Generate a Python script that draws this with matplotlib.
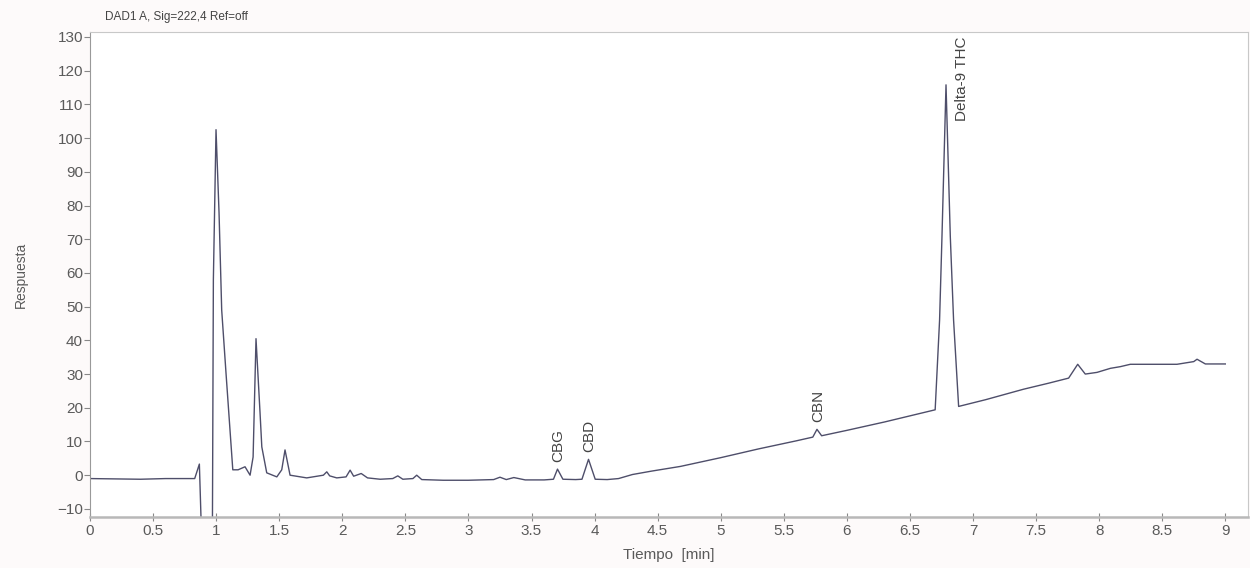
import matplotlib.pyplot as plt

plt.rcParams['font.family'] = ['Liberation Sans', 'DejaVu Sans']

# cromatograma (tiempo en min, respuesta)
tiempo = [0.00, 0.20, 0.40, 0.60, 0.83, 0.867, 0.886, 0.970, 0.978, 0.999,
          1.023, 1.044, 1.078, 1.132, 1.174, 1.229, 1.269, 1.293, 1.316, 1.348,
          1.362, 1.401, 1.481, 1.520, 1.546, 1.586, 1.718, 1.85, 1.877, 1.90,
          1.956, 2.03, 2.062, 2.09, 2.15, 2.20, 2.30, 2.40, 2.44, 2.48,
          2.56, 2.59, 2.63, 2.80, 3.00, 3.20, 3.25, 3.30, 3.36, 3.45,
          3.60, 3.674, 3.706, 3.749, 3.85, 3.90, 3.952, 4.005, 4.10, 4.19,
          4.30, 4.45, 4.68, 5.00, 5.30, 5.60, 5.73, 5.763, 5.80, 6.00,
          6.30, 6.50, 6.70, 6.735, 6.754, 6.786, 6.820, 6.846, 6.886, 7.10,
          7.40, 7.60, 7.758, 7.83, 7.89, 7.983, 8.089, 8.168, 8.247, 8.617,
          8.75, 8.776, 8.842, 9.00]
respuesta = [-1.0, -1.1, -1.2, -1.0, -1.0, 3.3, -20.0, -20.0, 58.0, 102.5,
             77.8, 49.0, 30.4, 1.6, 1.6, 2.5, 0.0, 5.4, 40.5, 18.5,
             8.4, 0.7, -0.5, 1.6, 7.5, 0.0, -0.8, 0.0, 1.0, -0.2,
             -0.8, -0.5, 1.5, -0.3, 0.5, -0.8, -1.2, -1.0, -0.2, -1.2,
             -1.0, 0.0, -1.3, -1.5, -1.5, -1.3, -0.6, -1.3, -0.7, -1.4,
             -1.4, -1.2, 1.8, -1.2, -1.3, -1.2, 4.7, -1.2, -1.3, -1.0,
             0.2, 1.2, 2.6, 5.2, 7.8, 10.2, 11.3, 13.6, 11.7, 13.3,
             15.8, 17.6, 19.4, 46.0, 70.8, 115.8, 70.8, 46.0, 20.4, 22.4,
             25.5, 27.3, 28.8, 32.9, 30.0, 30.5, 31.7, 32.2, 32.9, 32.9,
             33.7, 34.4, 33.0, 33.0]

picos = ['CBG', 'CBD', 'CBN', 'Delta-9 THC']
t_picos = [3.706, 3.952, 5.763, 6.786]
h_picos = [1.8, 4.7, 13.6, 115.8]

xticks = [0, 0.5, 1, 1.5, 2, 2.5, 3, 3.5, 4, 4.5, 5, 5.5, 6, 6.5, 7, 7.5, 8, 8.5, 9]
xlabels = ['0', '0.5', '1', '1.5', '2', '2.5', '3', '3.5', '4', '4.5', '5', '5.5',
           '6', '6.5', '7', '7.5', '8', '8.5', '9']
yticks = list(range(-10, 131, 10))

gris = '#5a5a5a'
fig = plt.figure(figsize=(12.5, 5.68), dpi=100, facecolor='#fdfafa')
ax = fig.add_axes([0.072, 0.0898, 0.9264, 0.854])
ax.set_facecolor('white')

ax.plot(tiempo, respuesta, color='#4e4e6a', lw=1.0)

for nombre, t, h in zip(picos, t_picos, h_picos):
    if nombre == 'Delta-9 THC':
        # etiqueta del THC va a la derecha del pico, pegada arriba
        ax.annotate(nombre, (t, h), xytext=(16, 48), textcoords='offset pixels',
                    rotation=90, ha='center', va='top', fontsize=11, color='#444444')
    else:
        ax.annotate(nombre, (t, h), xytext=(1, 7), textcoords='offset pixels',
                    rotation=90, ha='center', va='bottom', fontsize=11, color='#444444')

ax.set_xlim(0, 9.18)
ax.set_ylim(-12.4, 131.5)
ax.set_xticks(xticks)
ax.set_xticklabels(xlabels)
ax.set_yticks(yticks)
ax.tick_params(axis='x', direction='inout', length=6, colors='#888888',
               labelcolor=gris, labelsize=11, pad=2)
ax.tick_params(axis='y', direction='out', length=4, colors='#888888',
               labelcolor=gris, labelsize=11, pad=1)

for lado in ['top', 'right']:
    ax.spines[lado].set_color('#c8c8c8')
ax.spines['left'].set_color('#999999')
ax.spines['bottom'].set_color('#b8b8b8')
ax.spines['bottom'].set_linewidth(1.8)

ax.set_xlabel('Tiempo  [min]', fontsize=11, color=gris, labelpad=7)
ax.set_ylabel('Respuesta', fontsize=10, color=gris, labelpad=21)
ax.text(0.013, 1.018, 'DAD1 A, Sig=222,4 Ref=off', transform=ax.transAxes,
        fontsize=8.5, color='#444444', ha='left', va='bottom')

fig.savefig('out.png', dpi=100, facecolor=fig.get_facecolor())
